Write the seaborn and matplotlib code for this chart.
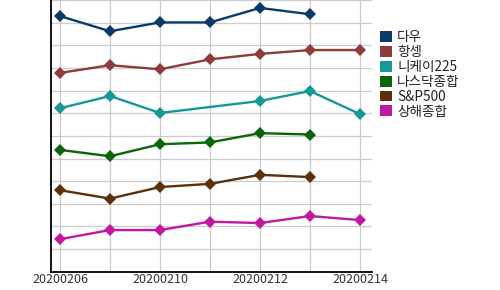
import numpy as np
import pandas as pd
import matplotlib
matplotlib.use("Agg")
import matplotlib.pyplot as plt
from matplotlib.patches import Patch
import seaborn as sns

dates = ["20200206", "20200207", "20200210", "20200211", "20200212", "20200213", "20200214"]
tick_labels = ["20200206", "", "20200210", "", "20200212", "", "20200214"]
series_names = ["다우", "항셍", "니케이225", "나스닥종합", "S&P500", "상해종합"]
dow = [11.29, 10.62, 11.01, 11.01, 11.65, 11.37, np.nan]
hangseng = [8.78, 9.12, 8.94, 9.38, 9.62, 9.79, 9.79]
nikkei = [7.22, 7.76, 7.01, np.nan, 7.54, 7.98, 6.96]
nasdaq = [5.38, 5.10, 5.63, 5.71, 6.12, 6.06, np.nan]
sp500 = [3.60, 3.23, 3.74, 3.88, 4.28, 4.18, np.nan]
shanghai = [1.44, 1.84, 1.84, 2.21, 2.15, 2.46, 2.28]
colors = ["#0c3a68", "#8e3b3b", "#16979a", "#0b660b", "#5c300b", "#c0189f"]

sns.set_theme(style="white")
plt.rcParams["font.family"] = ["Noto Sans CJK KR", "DejaVu Sans"]

rows = []
for name, vals in zip(series_names, [dow, hangseng, nikkei, nasdaq, sp500, shanghai]):
    for i, (d, v) in enumerate(zip(dates, vals)):
        rows.append({"series": name, "date": d, "pos": i, "value": v})
df = pd.DataFrame(rows).dropna()

fig = plt.figure(figsize=(5.0, 2.9), dpi=100)
ax = fig.add_axes([0.101, 0.063, 0.642, 0.937])

sns.lineplot(data=df, x="pos", y="value", hue="series", hue_order=series_names,
             palette=colors, marker="D", markersize=6.5, markeredgewidth=0,
             linewidth=1.7, legend=False, ax=ax, sort=True)

ax.set_xlim(-0.19, 6.23)
ax.set_ylim(0, 12)
ax.set_xticks(range(len(dates)))
ax.set_xticklabels(tick_labels, fontsize=9, color="#333333")
ax.set_yticks(np.arange(0, 13, 1))
ax.set_yticklabels([])
ax.tick_params(axis="both", length=0, pad=1)
ax.grid(True, color="#cccccc", linewidth=0.9)
ax.set_axisbelow(True)
ax.set_xlabel("")
ax.set_ylabel("")
for s in ["top", "right"]:
    ax.spines[s].set_visible(False)
for s in ["left", "bottom"]:
    ax.spines[s].set_color("black")
    ax.spines[s].set_linewidth(1.3)

handles = [Patch(facecolor=c, edgecolor="none", label=n) for n, c in zip(series_names, colors)]
fig.legend(handles=handles, loc="upper left", bbox_to_anchor=(0.76, 0.895),
           frameon=False, fontsize=9.8, handlelength=0.85, handleheight=0.85,
           handletextpad=0.4, labelspacing=0.06, borderpad=0, borderaxespad=0,
           labelcolor="#222222")

fig.savefig("out.png", dpi=100)
